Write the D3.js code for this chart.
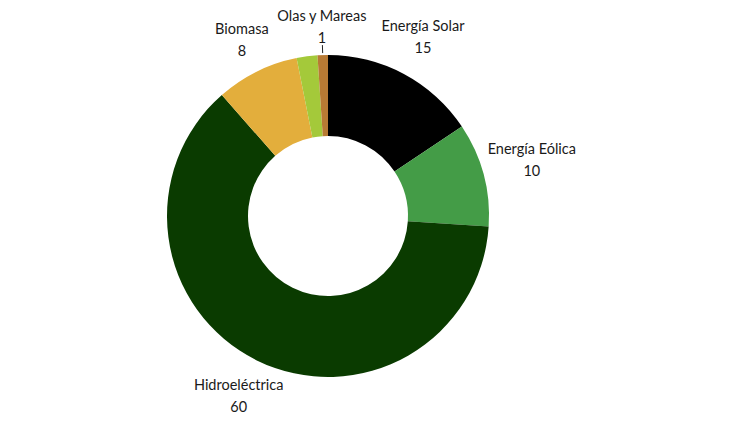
<!DOCTYPE html>
<html><head><meta charset="utf-8">
<script src="https://cdn.jsdelivr.net/npm/d3@7"></script>
<style>html,body{margin:0;padding:0;background:#fff;}</style>
</head><body>
<svg id="chart" width="750" height="422"></svg>
<script>
const categories = ["Energía Solar", "Energía Eólica", "Hidroeléctrica", "Biomasa", "Geotérmica", "Olas y Mareas"];
const values = [15, 10, 60, 8, 2, 1];
const showLabel = [true, true, true, true, false, true];
const colors = ["#000000", "#449c47", "#0a3b00", "#e3ae3c", "#a4c93a", "#b87a34"];

const svg = d3.select("#chart");
const cx = 328, cy = 216, outerR = 161, innerR = 80;
const g = svg.append("g").attr("transform", `translate(${cx},${cy})`);

const data = categories.map((c, i) => ({name: c, value: values[i], color: colors[i], show: showLabel[i]}));
const pie = d3.pie().value(d => d.value).sort(null);
const arc = d3.arc().innerRadius(innerR).outerRadius(outerR);
const arcs = pie(data);

g.selectAll("path").data(arcs).enter().append("path")
  .attr("d", arc).attr("fill", d => d.data.color);

const font = "Lato, 'Open Sans', sans-serif";
arcs.forEach(a => {
  if (!a.data.show) return;
  const mid = (a.startAngle + a.endAngle) / 2;
  const s = Math.sin(mid), c = Math.cos(mid);
  const t = g.append("text").attr("font-family", font).attr("font-size", 14.5).attr("fill", "#1a1a1a")
    .attr("text-anchor", "middle");
  const t1 = t.append("tspan").text(a.data.name);
  const w = t.node().getComputedTextLength();
  const h = 36;
  const r = 168 + Math.abs(s) * w / 2 * 0.9 + Math.abs(c) * h / 2;
  const x = r * s, y = -r * c;
  t1.attr("x", x).attr("y", y - 11).attr("dominant-baseline", "middle");
  t.append("tspan").attr("x", x).attr("y", y + 11).attr("dominant-baseline", "middle").text(a.data.value);
  if (a.data.value <= 1) {
    g.append("line")
      .attr("x1", 163 * s).attr("y1", -163 * c)
      .attr("x2", 171 * s).attr("y2", -171 * c)
      .attr("stroke", "#222").attr("stroke-width", 1);
  }
});
</script>
</body></html>
